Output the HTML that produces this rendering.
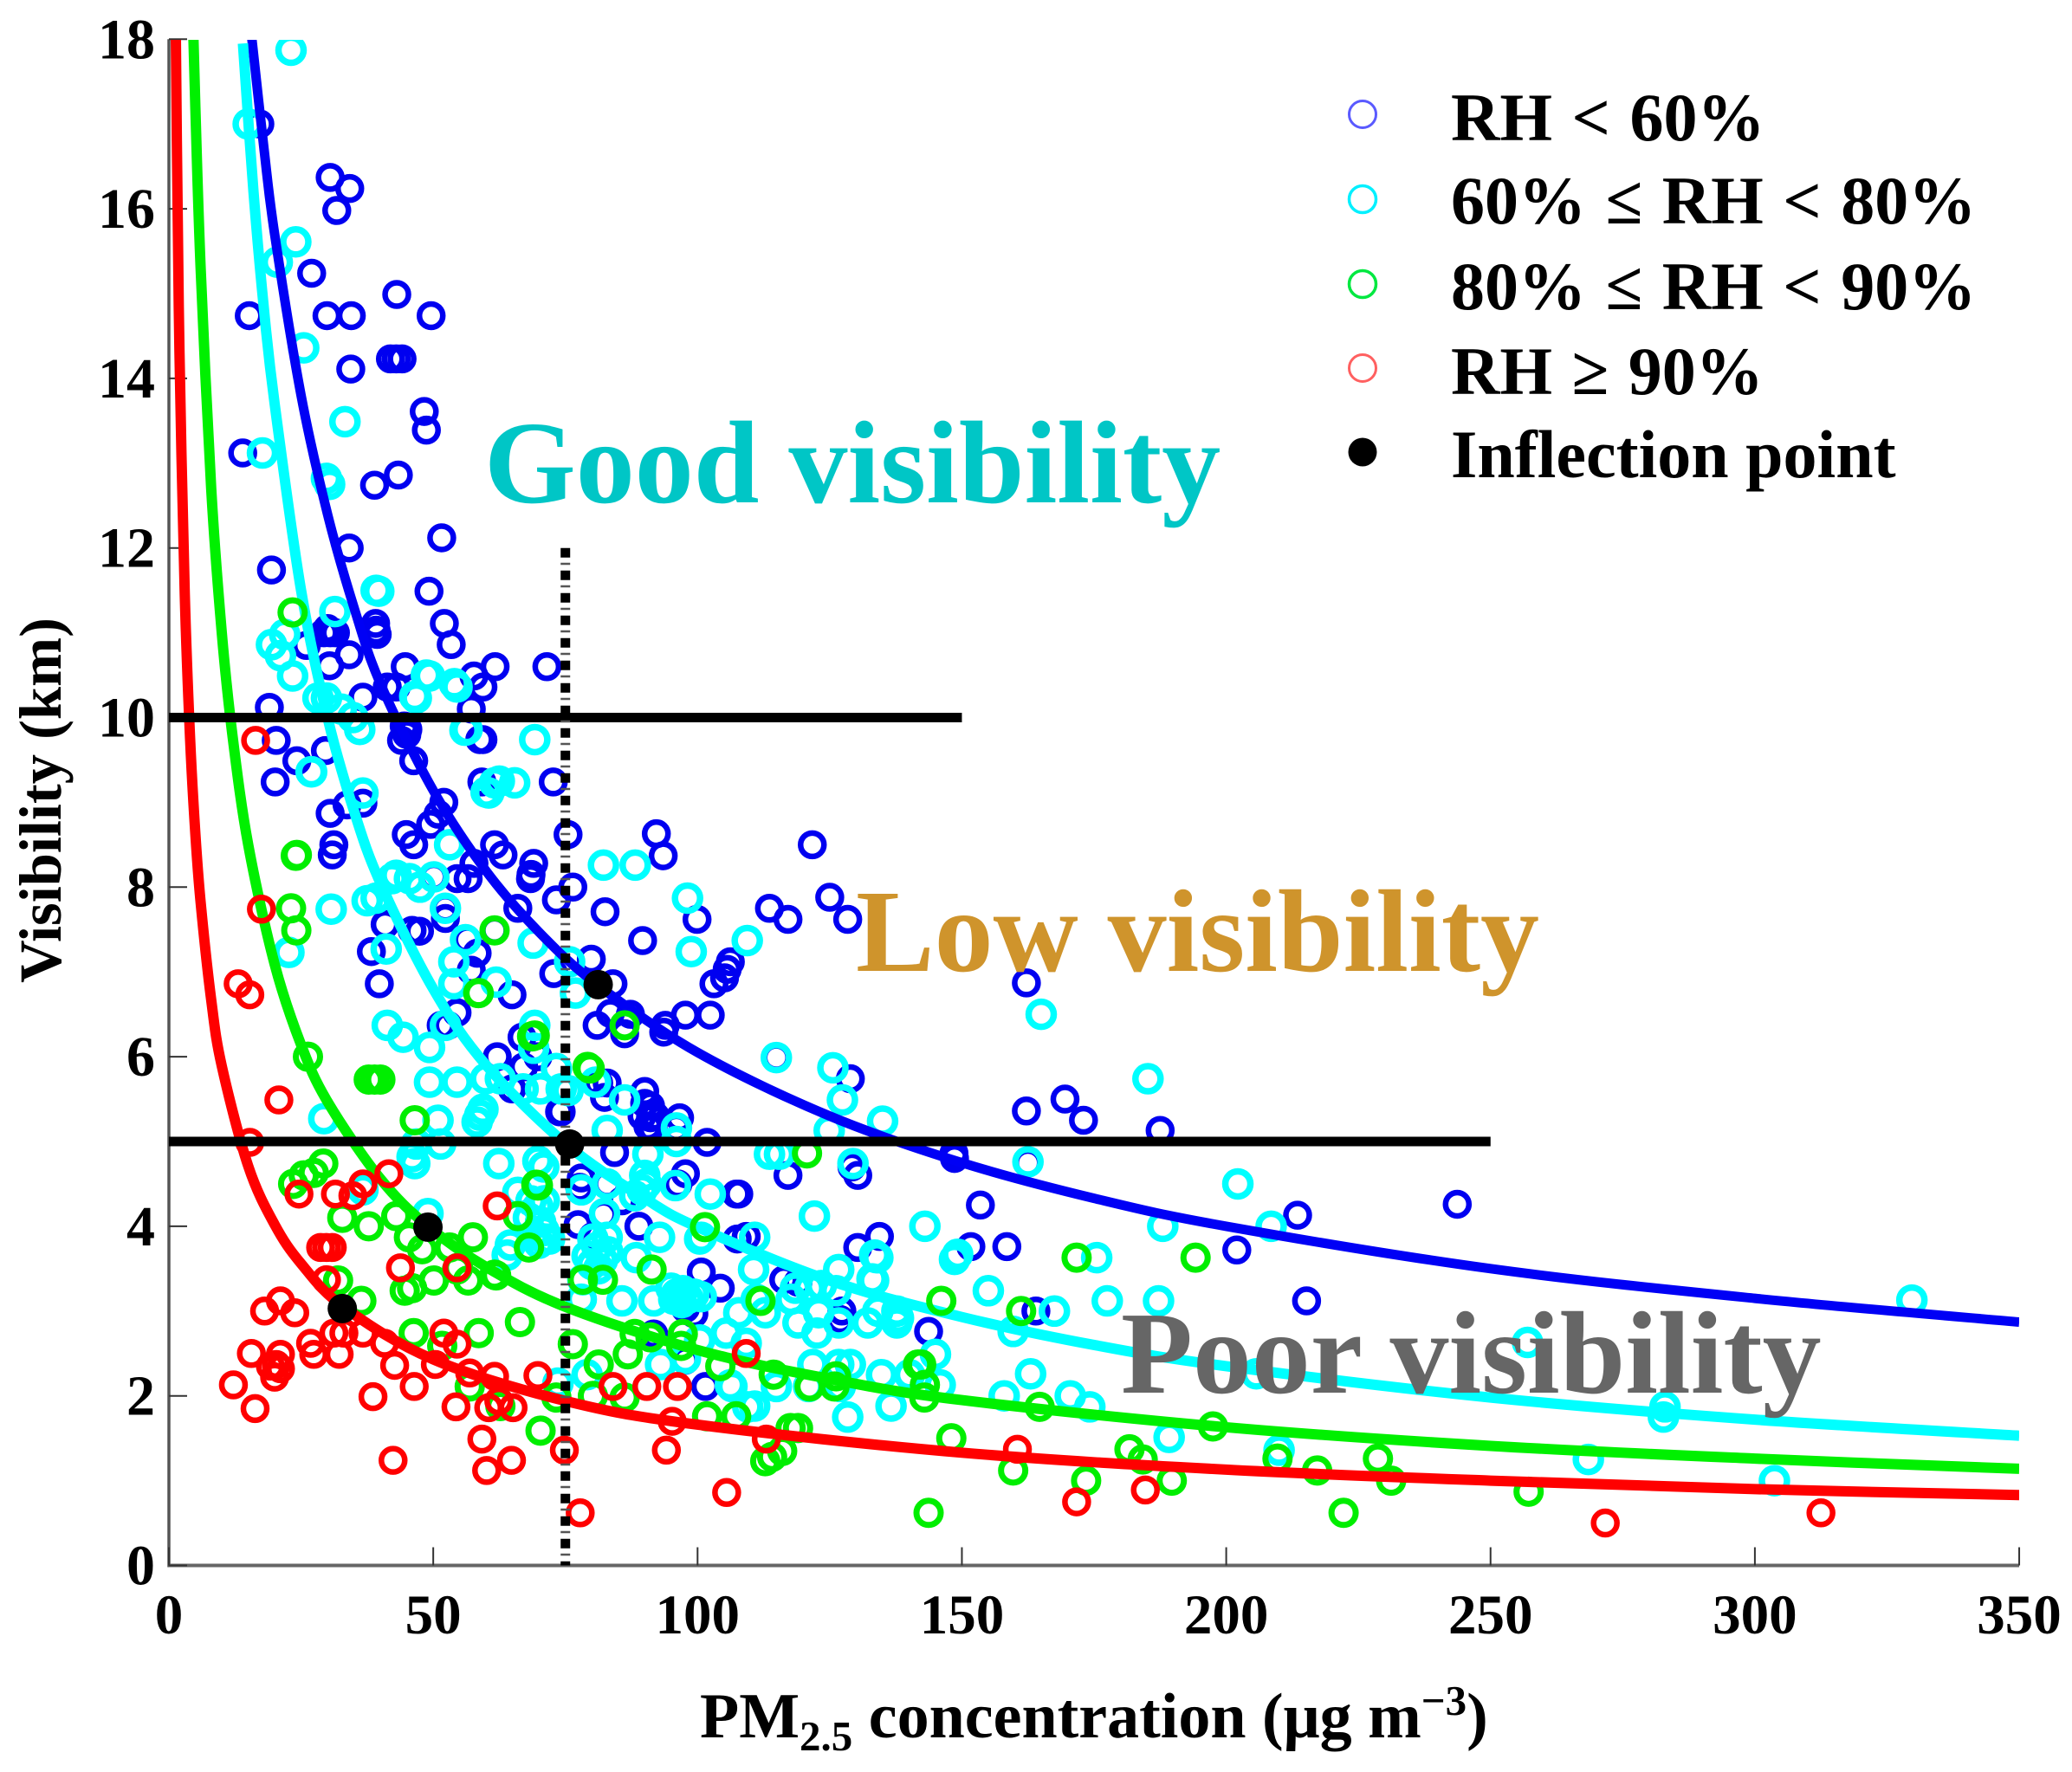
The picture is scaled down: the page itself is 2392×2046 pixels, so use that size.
<!DOCTYPE html>
<html lang="en">
<head>
<meta charset="utf-8">
<title>Visibility vs PM2.5</title>
<style>
html,body{margin:0;padding:0;background:#fff;}
svg{display:block;font-family:"Liberation Serif",serif;font-weight:bold;}
</style>
</head>
<body>
<svg id="chart" xmlns="http://www.w3.org/2000/svg" width="2392" height="2046" viewBox="0 0 2392 2046">
<defs><clipPath id="plot-clip"><rect x="150" y="46" width="2181" height="1800"/></clipPath></defs>
<rect x="0" y="0" width="2392" height="2046" fill="#fff"/>
<g id="axes"></g>
<g id="marks" clip-path="url(#plot-clip)"></g>
<g id="overlays"></g>
<text x="559" y="580" font-size="136" fill="#00c6c6">Good visibility</text>
<text x="988" y="1121" font-size="135.9" fill="#cf942c">Low visibility</text>
<text x="1294" y="1608" font-size="135.8" fill="#666666">Poor visibility</text>
<text transform="translate(70,924) rotate(-90)" text-anchor="middle" font-size="68.5" fill="#000">Visibility (km)</text>
<text x="808" y="2006" font-size="74" fill="#000">PM<tspan font-size="49" dy="15">2.5</tspan><tspan dy="-15"> concentration (μg m</tspan><tspan font-size="49" dy="-26">−3</tspan><tspan dy="26">)</tspan></text>
<g>
<circle cx="1573" cy="132" r="15.5" fill="#fff" stroke="#5a5aff" stroke-width="3"/>
<text x="1675" y="162" font-size="78" word-spacing="3">RH &lt; 60%</text>
<circle cx="1573" cy="230" r="15.5" fill="#fff" stroke="#00f0ff" stroke-width="3.5"/>
<text x="1675" y="258" font-size="78" word-spacing="3">60% ≤ RH &lt; 80%</text>
<circle cx="1573" cy="328" r="15.5" fill="#fff" stroke="#00e840" stroke-width="3.5"/>
<text x="1675" y="357" font-size="78" word-spacing="3">80% ≤ RH &lt; 90%</text>
<circle cx="1573" cy="425" r="15.5" fill="#fff" stroke="#ff6060" stroke-width="3"/>
<text x="1675" y="455" font-size="78" word-spacing="3">RH ≥ 90%</text>
<circle cx="1573" cy="522" r="16.5" fill="#000"/>
<text x="1675" y="551" font-size="78">Inflection point</text>
</g>
</svg>
<script>
const xTicks = [0, 50, 100, 150, 200, 250, 300, 350];
const yTicks = [0, 2, 4, 6, 8, 10, 12, 14, 16, 18];

const bluePoints = [[30.5,16.37],[34.2,16.24],[31.75,15.98],[27,15.24],[43.1,14.99],[15.2,14.74],[29.9,14.74],[34.5,14.74],[49.6,14.74],[34.4,14.11],[41.9,14.23],[43,14.23],[44.1,14.23],[48.3,13.61],[48.7,13.39],[17.2,17],[13.96,13.12],[43.4,12.86],[38.9,12.74],[51.6,12.12],[34.1,12],[19.4,11.74],[49.2,11.49],[52.1,11.11],[53.4,10.86],[39.1,11.11],[39.2,11.03],[39.4,10.98],[61.7,10.6],[71.5,10.6],[57.7,10.49],[59.4,10.36],[57.2,10.1],[44.7,10.6],[43,10.36],[41.3,10.36],[31.5,11],[29.3,11],[30,11.05],[30.5,11],[26,10.85],[34.1,10.74],[30.4,10.61],[36.7,10.24],[19,10.12],[20.3,9.73],[45.2,9.86],[44.5,9.9],[44,9.73],[45,9.8],[46.3,9.49],[58.8,9.74],[59.4,9.74],[29.6,9.61],[24.2,9.49],[20.1,9.24],[59.2,9.24],[72.7,9.24],[52,9],[50.9,8.86],[36.7,8.99],[33.7,8.97],[30.5,8.87],[44.9,8.62],[49.5,8.74],[46.3,8.5],[61.6,8.5],[63.2,8.38],[75.5,8.62],[31.2,8.5],[30.9,8.38],[69,8.28],[57.7,8.28],[92.2,8.63],[93.5,8.37],[121.7,8.5],[68.5,8.15],[40.9,7.56],[38.3,7.24],[46,7.49],[47.4,7.48],[52.3,7.63],[56.4,7.38],[58.3,7.22],[57.2,7.02],[64.9,6.73],[39.8,6.86],[54.5,6.52],[51.5,6.37],[52.8,6.37],[54.5,8.1],[56.6,8.1],[50.1,8.12],[52.3,7.75],[68.4,8.1],[76.4,8],[73.3,7.85],[66,7.75],[61.6,7.49],[72.8,6.98],[66.8,6.23],[62.1,6],[67.1,5.88],[69.8,6],[64.9,5.62],[73.9,5.35],[82.5,7.71],[89.6,7.37],[99.9,7.62],[113.6,7.75],[117.1,7.62],[125,7.88],[128.4,7.62],[79.9,7.15],[84,6.86],[106.2,7.12],[105.6,7.03],[105.1,6.93],[103.1,6.86],[97.7,6.49],[102.4,6.49],[81,6.37],[83.5,6.51],[86.2,6.27],[87.3,6.5],[93.6,6.29],[93.9,6.37],[114.9,5.99],[128.9,5.74],[90,5.59],[82.9,5.69],[82.4,5.52],[81.3,5.69],[91.1,5.42],[91.1,5.28],[90.6,5.18],[89.5,5.3],[90,5.45],[91.5,5.15],[92,5.3],[96.6,5.28],[96,5.16],[101.8,4.99],[130.3,4.6],[129.2,4.7],[117.1,4.6],[74.2,5.35],[148.6,4.8],[107.8,4.38],[107.3,4.38],[97.7,4.62],[96.3,4.5],[84.3,4.87],[78,4.57],[77.7,4.46],[82.9,4.5],[85.7,4.3],[77.4,4.02],[82.2,4.14],[88.9,4],[107.5,3.85],[109.2,3.88],[130.3,3.75],[134.4,3.88],[100.7,3.46],[104.3,3.27],[116.3,3.37],[119,3.34],[127.3,3],[127,2.9],[143.7,2.76],[101.5,2.11],[91.7,2.73],[97.7,2.42],[99.3,2.97],[97.7,3.03],[80.2,3.88],[162.2,6.87],[162.2,5.36],[169.5,5.5],[173,5.25],[162.5,4.75],[187.5,5.13],[148.5,4.86],[153.5,4.25],[151.7,3.76],[158.5,3.76],[202,3.72],[213.5,4.13],[243.7,4.26],[215.2,3.12],[164,3]];

const cyanPoints = [[23.1,17.87],[15,17],[24,15.61],[20.5,15.37],[25.5,14.36],[33.3,13.49],[17.7,13.12],[29.8,12.82],[30.4,12.75],[39.7,11.49],[31.4,11.25],[21.9,10.98],[19.4,10.86],[21.1,10.73],[23.4,10.49],[28.2,10.23],[29.8,10.23],[32.6,10.1],[34.8,10],[36.1,9.86],[46.8,10.23],[49.3,10.49],[54.5,10.36],[56.4,9.86],[69.2,9.74],[26.9,9.36],[36.7,9.11],[53.1,8.5],[60.5,9.11],[61.6,9.23],[65.4,9.23],[82.2,8.26],[88.2,8.26],[98.1,7.87],[98.8,7.24],[109.4,7.37],[43,8.14],[45.5,8.1],[47.5,8],[39.2,7.87],[37.5,7.84],[30.7,7.74],[52.3,7.75],[41.1,7.27],[22.7,7.23],[56.1,7.38],[53.9,7.12],[53.9,6.86],[61.9,6.88],[68.9,7.34],[42.2,8.1],[50.1,8.12],[41.3,6.37],[44.3,6.23],[49.3,6.11],[52.3,6.37],[69.2,6.37],[69,6.1],[49.3,5.7],[54.5,5.7],[59.9,5.74],[62.7,5.74],[70.3,5.62],[67,5.62],[74.2,5.62],[73.3,5.86],[29.3,5.27],[50.9,5.25],[59.4,5.38],[58.8,5.31],[58.3,5.23],[51.4,4.97],[46.8,4.97],[46,4.82],[46.5,4.74],[62.4,4.74],[69.8,4.77],[70.9,4.7],[66,4.4],[69.8,4.23],[70.3,4.05],[70.9,3.95],[68,4.1],[69,3.9],[70,3.8],[71,4.3],[68.5,4.3],[71,3.85],[64.6,3.78],[64,3.66],[72,3.85],[76.9,6.75],[75.8,7.12],[49,4.15],[36.7,4.43],[78.3,3.37],[114.9,5.99],[125.6,5.87],[127.4,5.49],[135,5.24],[124.9,5.13],[113.6,4.85],[115.5,4.85],[129.4,4.74],[122.1,4.12],[143,4],[148.6,3.61],[80.7,5.7],[75.5,5.6],[86.2,5.49],[82.9,5.13],[96,5.16],[96,5],[90.6,4.85],[90,4.6],[90.3,4.5],[89.5,4.43],[88.1,4.36],[82.9,4.5],[78,4.43],[95.8,4.48],[102.4,4.38],[92.8,3.87],[100.7,3.87],[82.9,3.87],[80.2,3.85],[82.4,4.15],[81,3.75],[82,3.6],[83,3.7],[80,3.55],[88.4,3.63],[110.6,3.49],[110.8,3.87],[126.7,3.49],[133.8,3.63],[133.3,3.36],[81.3,3.5],[79.1,3.65],[85.7,3.12],[91.7,3.12],[95,3.27],[96,3.2],[97.2,3.24],[98.2,3.15],[99.3,3.2],[95.5,3.14],[97,3.1],[100.7,3.17],[111.1,3.14],[107.8,2.98],[112.8,2.98],[119,2.86],[122.9,2.98],[122.6,2.74],[121.2,3.27],[123.4,3.3],[118.5,3.27],[126.2,3.24],[117.7,3.14],[134.1,3.63],[126.7,2.86],[132.2,2.86],[137.7,2.86],[134.1,3],[137.7,3],[145,2.49],[105.4,2.74],[109.2,2.62],[121.8,2.37],[126.7,2.37],[128.9,2.37],[134.8,2.25],[140.1,2.25],[145.9,2.13],[114.9,2.11],[106.5,2.11],[121,2.11],[127,2.11],[110.8,1.88],[128.4,1.75],[136.6,1.88],[93,2.37],[97.7,2.44],[79.1,2.25],[73.6,2.15],[78,3.14],[100.4,2.66],[100.4,3.85],[175.5,3.63],[177.5,3.12],[187.2,3.12],[188,4],[208.5,4],[202.2,4.5],[167.5,3],[159.7,2.76],[163,2.26],[158,2],[170.5,2],[174.2,1.87],[189.2,1.51],[210,1.36],[257,2.63],[268.5,1.25],[283,1.87],[282.7,1.75],[303.7,1],[329.7,3.13],[162.5,4.76],[185.2,5.74],[165,6.5],[205.7,2.26],[149.2,3.67],[155,3.24],[133.5,3.66],[133,3.38],[138,2.92],[109.5,1.87],[106.2,2.13],[39.2,11.5],[60,9.12],[62.5,9.25],[54,10.4],[48.7,10.5],[46.5,10.25],[27,9.36],[56,9.85]];

const greenPoints = [[23.4,11.24],[24.2,8.38],[23.1,7.75],[24.1,7.49],[61.6,7.49],[58.6,6.75],[26.3,6],[37.8,5.73],[38.9,5.73],[40,5.73],[46.5,5.25],[69.2,6.25],[79.6,5.86],[29.2,4.74],[27.4,4.63],[25.5,4.6],[23.5,4.5],[32.8,4.1],[37.8,4],[43,4.12],[45.4,3.87],[47.9,3.73],[53.1,3.75],[57.5,3.87],[54.5,3.49],[61.6,3.43],[69.8,4.48],[66,4.12],[68.1,3.75],[78.3,3.37],[32,3.36],[36.4,3.12],[44.6,3.24],[46,3.27],[50.1,3.36],[56.6,3.36],[61.9,3.42],[54.7,3.51],[46.3,2.74],[58.6,2.74],[66.4,2.87],[51.7,2.59],[56.9,2.11],[62.7,1.88],[70.3,1.59],[73.3,1.98],[76.4,2.61],[82.1,3.37],[91.3,3.49],[101.4,3.99],[111.9,3.12],[146.1,3.12],[88.1,2.73],[91.1,2.69],[97.2,2.73],[96.9,2.59],[81.3,2.37],[86.8,2.49],[104.3,2.35],[114.4,2.25],[121.2,2.11],[126.2,2.23],[125.9,2.11],[142.3,2.37],[142.9,1.98],[86.2,1.98],[80.2,2],[101.8,1.76],[107.3,1.76],[119,1.62],[117.6,1.62],[116,1.35],[114.1,1.28],[112.8,1.23],[143.7,0.62],[148,1.5],[171.7,3.63],[194.2,3.63],[161.2,3],[164.7,1.87],[197.5,1.64],[181.7,1.37],[184.2,1.25],[173.5,1],[159.7,1.12],[189.7,1],[209.7,1.26],[217.2,1.12],[228.7,1.26],[231.2,1],[222.2,0.62],[257.2,0.87],[120.7,4.86],[86.2,6.37],[79.2,5.88],[68.7,6.24],[58.5,6.75],[24,8.37],[69.5,4.49],[143,2.13],[141.7,2.37]];

const redPoints = [[12.2,2.13],[16.3,1.85],[15.6,2.5],[18.1,3],[21.1,3.12],[23.8,2.98],[21.1,2.49],[20.3,2.37],[19.2,2.35],[20,2.22],[21.1,2.32],[26.8,2.62],[27.4,2.49],[31.2,2.74],[33.1,2.74],[32.2,2.49],[36.7,2.74],[40.8,2.62],[38.6,1.99],[42.7,2.36],[46.4,2.11],[42.4,1.24],[52,2.74],[54.5,2.61],[50.4,2.37],[56.9,2.27],[61.6,2.23],[69.8,2.24],[54.3,1.87],[60.5,1.86],[65.1,1.86],[62.4,1.94],[59.2,1.49],[64.8,1.24],[60.1,1.12],[74.8,1.36],[77.8,0.62],[29.8,3.37],[43.8,3.51],[54.5,3.51],[28.7,3.75],[29.8,3.75],[30.9,3.75],[17.5,7.74],[13.1,6.86],[15.3,6.73],[20.8,5.49],[15.3,4.99],[41.6,4.62],[36.7,4.5],[34.8,4.36],[31.5,4.38],[24.6,4.38],[62.1,4.24],[16.4,9.73],[84,2.11],[90.4,2.11],[96.2,2.11],[95.2,1.7],[94.1,1.36],[109.2,2.5],[113,1.49],[105.5,0.86],[171.7,0.75],[184.7,0.89],[160.5,1.37],[271.7,0.5],[312.5,0.62]];

const blueCurveX = [15.7,18,20,25,30,35,40,50,60,70,81,100,125,150,175,200,250,300,350];
const blueCurveY = [18,16.7,15.7,13.8,12.4,11.3,10.4,9.14,8.19,7.47,6.85,6.05,5.3,4.75,4.33,4,3.5,3.15,2.87];
const cyanCurveX = [14,16,18,20,25,30,35,40,50,60,75.5,90,100,125,150,175,200,250,300,350];
const cyanCurveY = [17.95,16.2,14.8,13.7,11.5,10,8.9,8.05,6.8,5.9,4.95,4.33,3.99,3.36,2.93,2.6,2.35,1.98,1.72,1.53];
const greenCurveX = [4.6,5,6,8,10,12,15,20,25,30,40,49,60,75,100,125,150,200,250,300,350];
const greenCurveY = [18.1,17.2,15.3,12.7,11,9.8,8.5,7.09,6.14,5.47,4.56,4,3.52,3.05,2.54,2.2,1.95,1.63,1.41,1.26,1.14];
const redCurveX = [1.3,1.5,2,3,4,5,6,8,10,15,20,25,33,50,75,100,150,200,250,300,350];
const redCurveY = [18.1,16.8,14.3,11.45,9.76,8.63,7.82,6.67,5.89,4.71,4.02,3.56,3.05,2.43,1.94,1.66,1.33,1.13,1,0.9,0.83];

const inflectionX = [81.2,75.8,49,32.8];
const inflectionY = [6.85,4.97,3.99,3.03];

const NS = 'http://www.w3.org/2000/svg';
function sx(v){ return 195 + v * 6.103; }
function sy(v){ return 1807.5 - v * 97.9; }
function make(tag, attrs, parent){
  const el = document.createElementNS(NS, tag);
  for (const k in attrs) el.setAttribute(k, attrs[k]);
  parent.appendChild(el);
  return el;
}
function smoothPath(xs, ys){
  const p = xs.map(function(x, i){ return [sx(x), sy(ys[i])]; });
  let d = 'M' + p[0][0] + ' ' + p[0][1];
  for (let i = 0; i < p.length - 1; i++){
    const a = p[Math.max(i - 1, 0)], b = p[i], c = p[i + 1], e = p[Math.min(i + 2, p.length - 1)];
    d += 'C' + (b[0] + (c[0] - a[0]) / 6) + ' ' + (b[1] + (c[1] - a[1]) / 6) + ' ' +
         (c[0] - (e[0] - b[0]) / 6) + ' ' + (c[1] - (e[1] - b[1]) / 6) + ' ' + c[0] + ' ' + c[1];
  }
  return d;
}
const axes = document.getElementById('axes');
const marks = document.getElementById('marks');
const overlays = document.getElementById('overlays');

const yLine = make('line', {x1: sx(0), y1: sy(18), x2: sx(0), y2: sy(0) + 2, stroke: '#555', 'stroke-width': 3.5}, axes);


const xLine = make('line', {x1: sx(0), y1: sy(0), x2: sx(350), y2: sy(0), stroke: '#666', 'stroke-width': 4}, axes);



xTicks.forEach(function(t){
  const tick = make('line', {x1: sx(t), y1: sy(0), x2: sx(t), y2: sy(0) - 21, stroke: '#333', 'stroke-width': 2}, axes);
  
  
  const label = make('text', {x: sx(t), y: 1886, 'text-anchor': 'middle', 'font-size': 65, fill: '#000'}, axes);
  label.textContent = String(t);
  
  
});
yTicks.forEach(function(t){
  const tick = make('line', {x1: sx(0), y1: sy(t), x2: sx(0) + 21, y2: sy(t), stroke: '#333', 'stroke-width': 2}, axes);
  
  
  const label = make('text', {x: 179, y: sy(t) + 22, 'text-anchor': 'end', 'font-size': 66, fill: '#000'}, axes);
  label.textContent = String(t);
  
  
});

function drawPoints(points, color, r, sw, name){
  points.forEach(function(pt){
    const c = make('circle', {cx: sx(pt[0]), cy: sy(pt[1]), r: r, fill: 'none', stroke: color, 'stroke-width': sw}, marks);
    
    
  });
}
function drawCurve(xs, ys, color, sw, name){
  const l = make('path', {d: smoothPath(xs, ys), fill: 'none', stroke: color, 'stroke-width': sw}, marks);
  
  
}
drawPoints(bluePoints, '#0000f0', 13.5, 6.5, 'point-rh-below-60');
drawPoints(cyanPoints, '#00ffff', 14.5, 7.5, 'point-rh-60-80');
drawCurve(blueCurveX, blueCurveY, '#0000f5', 11, 'curve-rh-below-60');
drawCurve(cyanCurveX, cyanCurveY, '#00ffff', 12, 'curve-rh-60-80');
drawPoints(greenPoints, '#00ee00', 14, 7, 'point-rh-80-90');
drawCurve(greenCurveX, greenCurveY, '#00f000', 12, 'curve-rh-80-90');
drawPoints(redPoints, '#ff0000', 13.5, 6.5, 'point-rh-above-90');
drawCurve(redCurveX, redCurveY, '#ff0000', 12, 'curve-rh-above-90');

const h10 = make('line', {x1: sx(0), y1: sy(10), x2: sx(150), y2: sy(10), stroke: '#000', 'stroke-width': 11}, overlays);


const h5 = make('line', {x1: sx(0), y1: sy(5), x2: sx(250), y2: sy(5), stroke: '#000', 'stroke-width': 11}, overlays);


const v75a = make('line', {x1: sx(75), y1: sy(12), x2: sx(75), y2: sy(0), stroke: '#000', 'stroke-width': 11, 'stroke-dasharray': '11 15'}, overlays);


const v75b = make('line', {x1: sx(75), y1: sy(12) + 17, x2: sx(75), y2: sy(0), stroke: '#555', 'stroke-width': 11, 'stroke-dasharray': '2.5 23.5'}, overlays);



inflectionX.forEach(function(x, i){
  const d = make('circle', {cx: sx(x), cy: sy(inflectionY[i]), r: 17, fill: '#000'}, overlays);
  
  
});
</script>
</body>
</html>
